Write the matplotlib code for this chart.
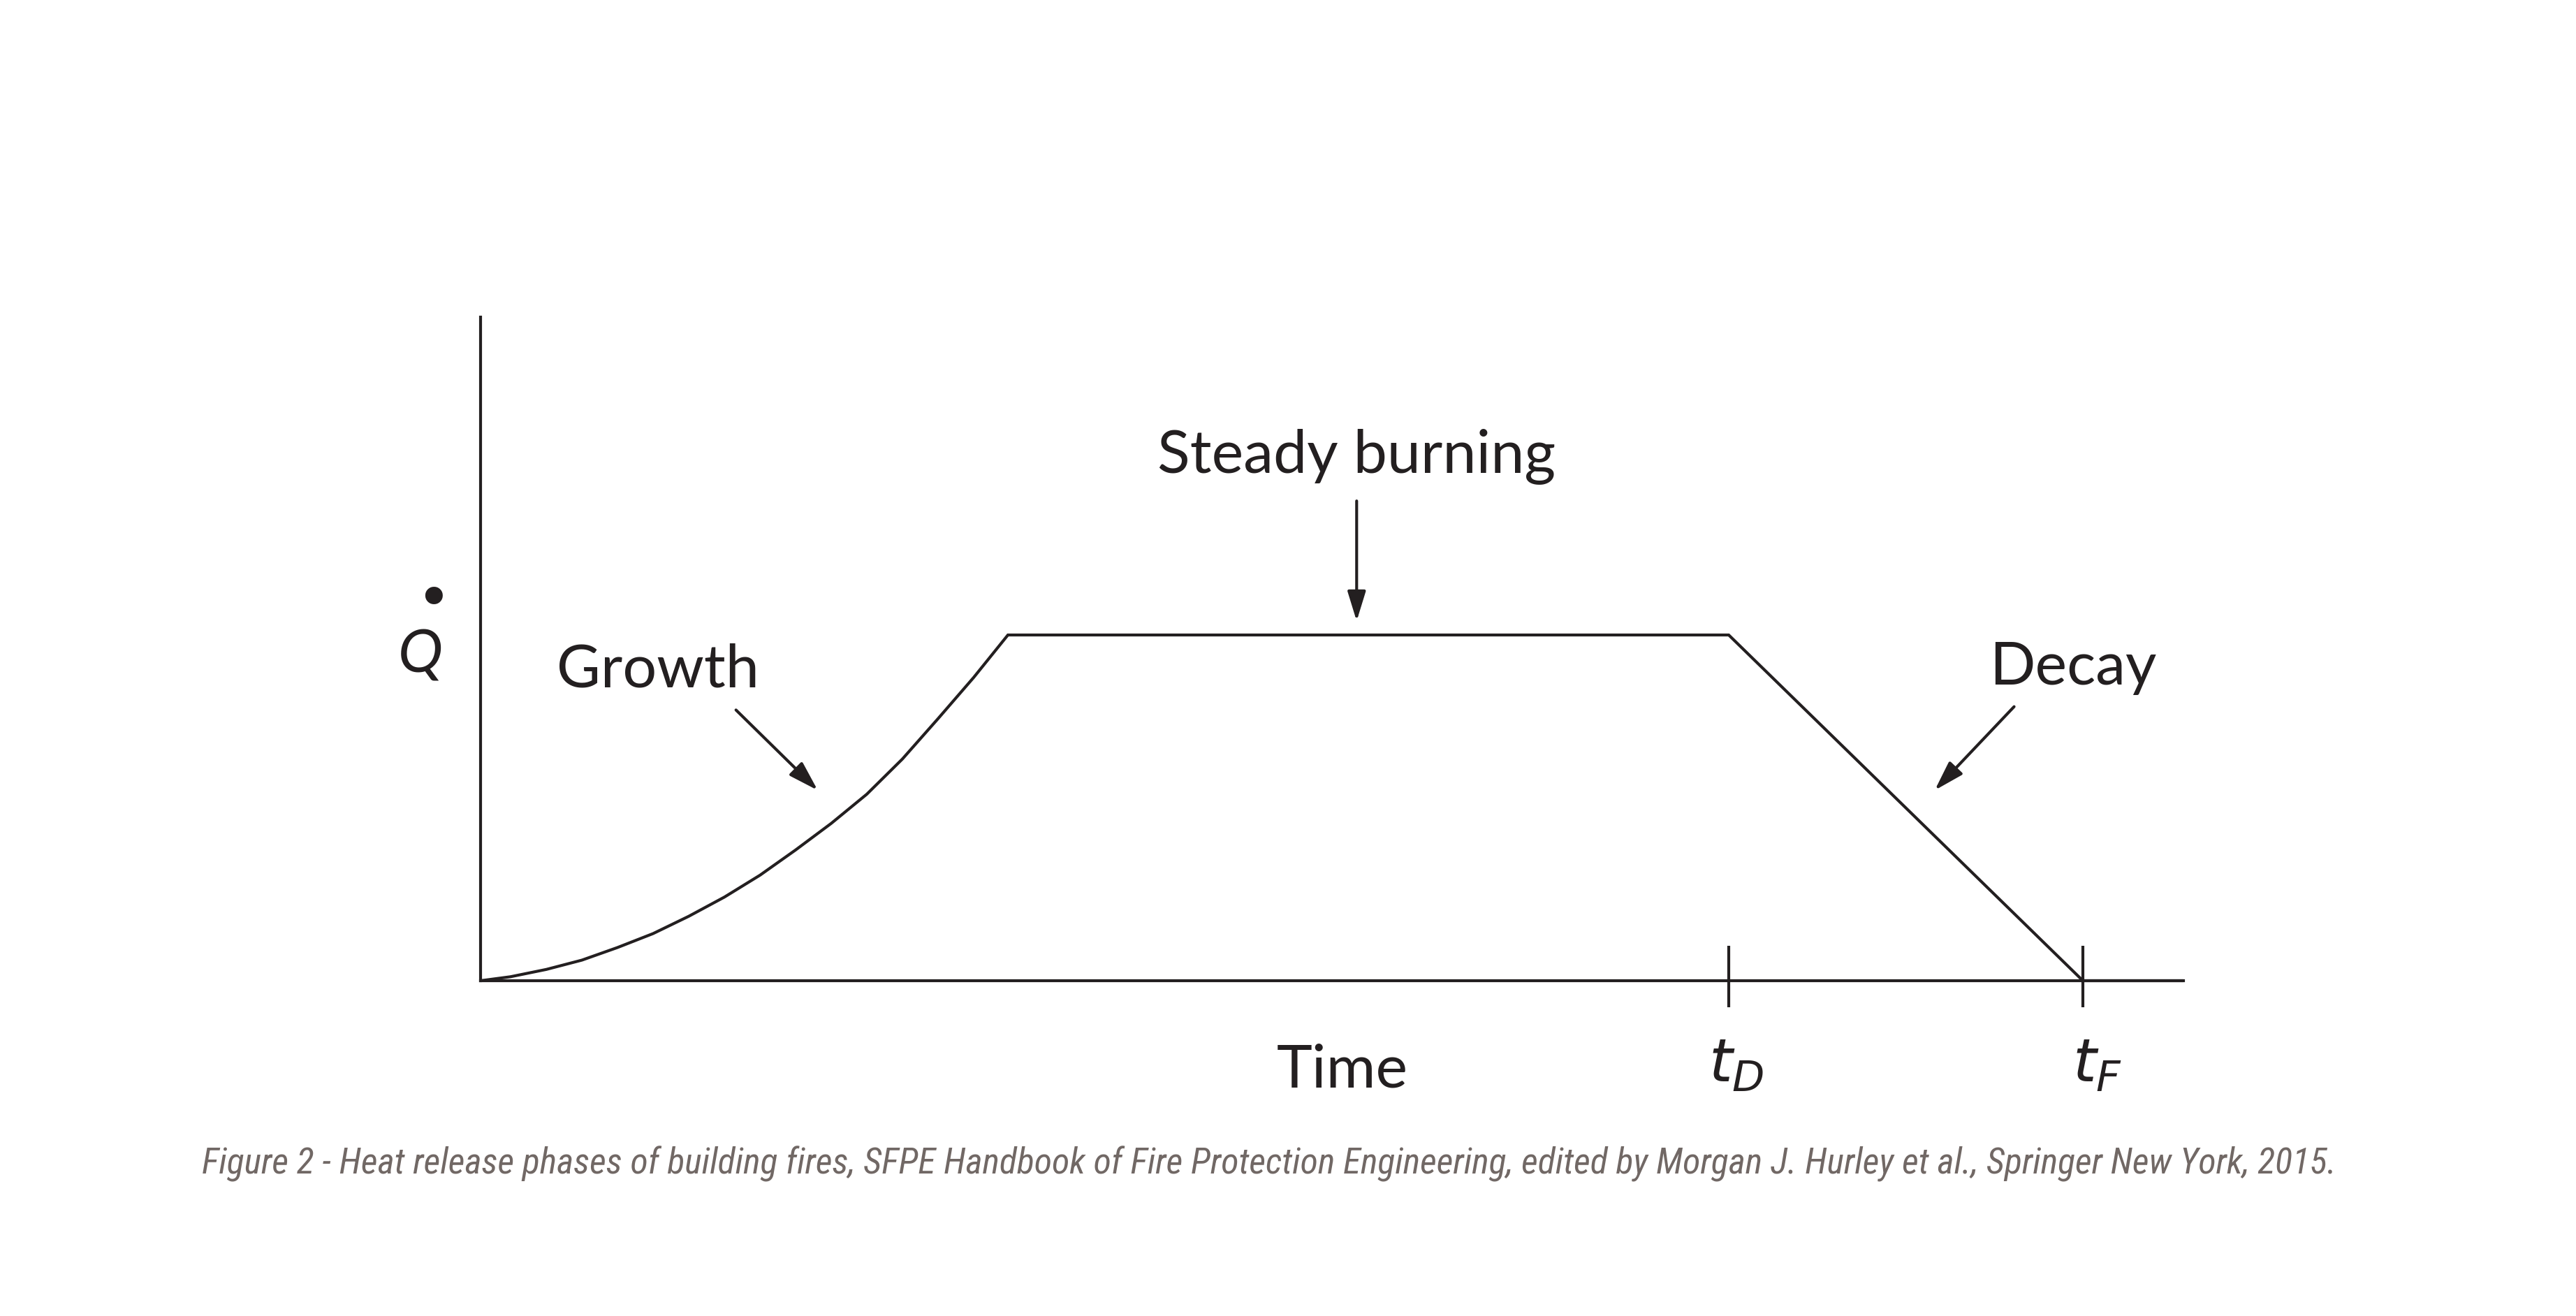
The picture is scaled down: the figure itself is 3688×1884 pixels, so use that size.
import matplotlib
matplotlib.use("Agg")
import matplotlib.pyplot as plt
from matplotlib import font_manager

# ---------------- data ----------------
growth_t = [0.0, 1.76, 3.86, 5.95, 8.04, 10.13, 12.22, 14.32, 16.41, 18.50,
            20.59, 22.68, 24.77, 26.87, 28.96, 30.97]
growth_q = [0.0, 0.006, 0.017, 0.031, 0.050, 0.071, 0.097, 0.126, 0.159, 0.197,
            0.237, 0.281, 0.334, 0.395, 0.457, 0.521]
t_decay_start = 73.3   # t_D
t_end = 94.1           # t_F
q_steady = 0.521
time_max = 100.0

phase_labels = ["Growth", "Steady burning", "Decay"]
tick_labels = ["$t_D$", "$t_F$"]
x_label = "Time"
y_label = "Q"
caption = ("Figure 2 - Heat release phases of building fires, SFPE Handbook of Fire "
           "Protection Engineering, edited by Morgan J. Hurley et al., Springer New York, 2015.")

# ---------------- styling ----------------
INK = "#231f20"
CAPTION_COLOR = "#716865"
LW = 1.5
LABEL_FONT = "Lato"
LABEL_SIZE = 31

available = {f.name for f in font_manager.fontManager.ttflist}
cap_font = next((f for f in ["Liberation Sans Narrow", "Roboto Condensed", "Open Sans Condensed",
                              "Noto Sans"] if f in available), "DejaVu Sans")

W, H, DPI = 3688, 1884, 200
fig = plt.figure(figsize=(W / DPI, H / DPI), dpi=DPI, facecolor="white")
ax = fig.add_axes([0.18655, 0.25478, 0.66103, 0.50424])
ax.set_xlim(0, time_max)
ax.set_ylim(0, 1)
for s in ["top", "right"]:
    ax.spines[s].set_visible(False)
for s in ["left", "bottom"]:
    ax.spines[s].set_color(INK)
    ax.spines[s].set_linewidth(LW)
ax.set_xticks([])
ax.set_yticks([])
ax.patch.set_alpha(0)

# heat-release curve
curve_t = growth_t + [t_decay_start, t_end, time_max]
curve_q = growth_q + [q_steady, 0.0, 0.0]
ax.plot(curve_t, curve_q, color=INK, lw=LW, solid_joinstyle="miter",
        solid_capstyle="butt", clip_on=False)

# t_D and t_F tick marks
ax.vlines([t_decay_start, t_end], -0.04, 0.053, color=INK, lw=LW, clip_on=False)

txt_kw = dict(family=LABEL_FONT, fontsize=LABEL_SIZE, color=INK, ha="center", va="center")
ax.text(10.4, 0.468, phase_labels[0], **txt_kw)
ax.text(51.45, 0.79, phase_labels[1], **txt_kw)
ax.text(93.5, 0.472, phase_labels[2], **txt_kw)
ax.text(50.6, -0.135, x_label, **txt_kw)

ax.text(-3.55, 0.49, y_label, family=LABEL_FONT, style="italic", fontsize=LABEL_SIZE,
        color=INK, ha="center", va="center")
ax.text(-2.75, 0.572, "\u2022", family="DejaVu Sans", fontsize=31, color=INK,
        ha="center", va="center")

ax.text(t_decay_start + 0.45, -0.128, tick_labels[0], fontsize=LABEL_SIZE, color=INK,
        ha="center", va="center", math_fontfamily="dejavusans")
ax.text(t_end + 0.85, -0.128, tick_labels[1], fontsize=LABEL_SIZE, color=INK,
        ha="center", va="center", math_fontfamily="dejavusans")

arrow_kw = dict(arrowstyle="-|>,head_length=0.65,head_width=0.2", color=INK, lw=LW,
                mutation_scale=20, shrinkA=0, shrinkB=0)
ax.annotate("", xy=(19.8, 0.287), xytext=(15.0, 0.408), arrowprops=arrow_kw,
            annotation_clip=False)
ax.annotate("", xy=(51.45, 0.542), xytext=(51.45, 0.723), arrowprops=arrow_kw,
            annotation_clip=False)
ax.annotate("", xy=(85.4, 0.287), xytext=(90.06, 0.413), arrowprops=arrow_kw,
            annotation_clip=False)

# caption, fitted to the reference width
cap = fig.text(289 / W, 1 - 1680 / H, caption, family=cap_font, style="italic",
               fontsize=20, color=CAPTION_COLOR, ha="left", va="baseline")
fig.canvas.draw()
bb = cap.get_window_extent()
cap.set_fontsize(20 * (3342 - 289) / bb.width)

fig.savefig("out.png", dpi=DPI, facecolor="white")
